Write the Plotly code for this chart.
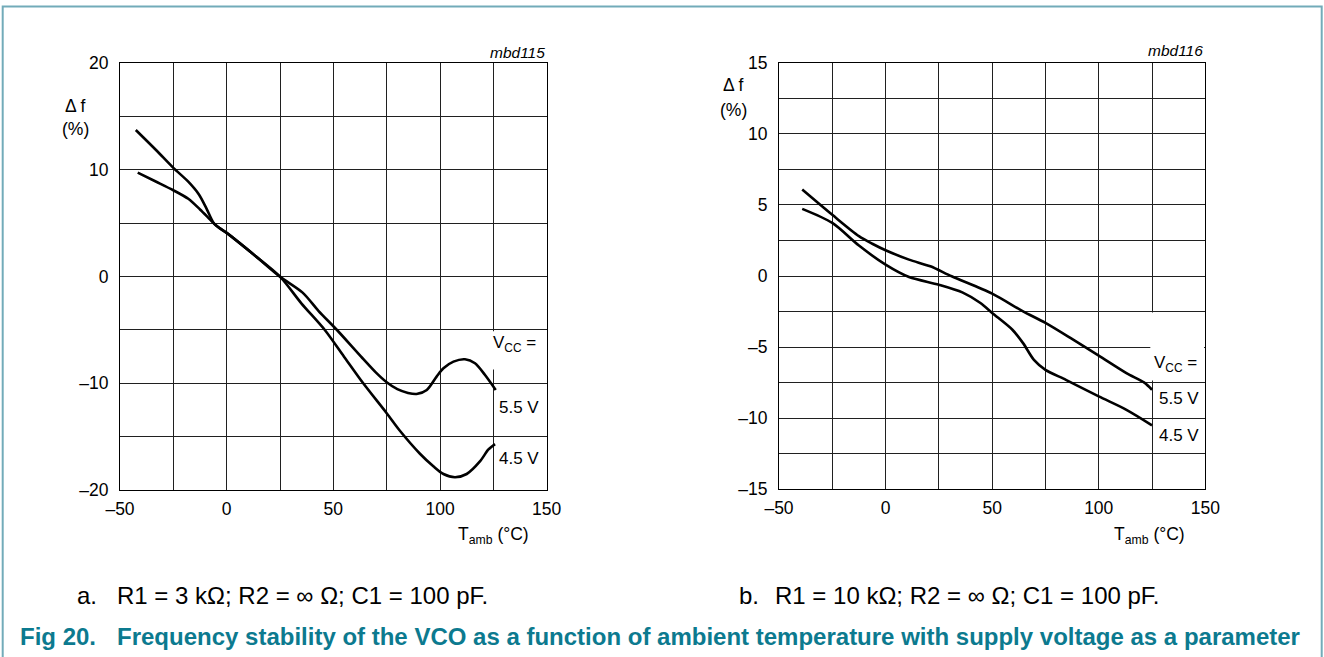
import plotly.graph_objects as go

# ---------------- data ----------------
# Chart a: R1 = 3 kOhm
a_x_55 = [-41.7, -33, -25, -18, -12.5, -8, -5, 0, 12.5, 25, 35.6, 43, 51.7, 63, 70, 75,
          80, 85, 89, 93.8, 98.4, 101.6, 106.3, 111.7, 116.4, 121.1, 126.1]
a_y_55 = [9.75, 8.9, 8.1, 7.3, 6.3, 5.4, 4.8, 4.1, 2.1, 0.0, -1.5, -3.2, -5.0, -7.5, -9.0, -9.9,
          -10.55, -10.9, -11.0, -10.62, -9.37, -8.59, -7.97, -7.75, -8.12, -9.22, -10.62]
a_x_45 = [-42.6, -33, -25, -18, -13, -9.5, -6, -3, 0, 12.5, 25, 35, 46, 55, 64, 75,
          81, 90.6, 97, 101.6, 107, 112.5, 118.8, 122.7, 125.8]
a_y_45 = [13.75, 11.85, 10.2, 8.9, 7.7, 6.4, 5.0, 4.5, 4.1, 2.1, 0.0, -2.5, -5.0, -7.5, -10.0, -12.8,
          -14.4, -16.6, -17.8, -18.5, -18.8, -18.5, -17.3, -16.2, -15.7]

# Chart b: R1 = 10 kOhm
b_x_55 = [-39.1, -25, -12.5, -6, 0, 11, 21, 31, 50, 64.5, 75, 88, 100, 113, 121.4, 125]
b_y_55 = [6.08, 4.3, 2.8, 2.25, 1.81, 1.15, 0.68, -0.02, -1.24, -2.49, -3.3, -4.48, -5.6, -6.83, -7.5, -8.0]
b_x_45 = [-39.1, -25, -12.5, 0, 11, 25, 36, 44.5, 50, 59.5, 64.5, 69.6, 75, 84.6, 100, 113, 125]
b_y_45 = [4.72, 3.73, 2.14, 0.8, -0.07, -0.61, -1.15, -1.9, -2.6, -3.78, -4.72, -5.9, -6.6, -7.3,
          -8.47, -9.41, -10.5]

# axes / ticks
x_range = [-50, 150]
x_tickvals = [-50, 0, 50, 100, 150]
x_ticktext = ["\u201350", "0", "50", "100", "150"]
x_minor = [-25, 25, 75, 125]

a_y_range = [-20, 20]
a_y_tickvals = [-20, -10, 0, 10, 20]
a_y_ticktext = ["\u201320", "\u201310", "0", "10", "20"]
a_y_minor = [-15, -5, 5, 15]

b_y_range = [-15, 15]
b_y_tickvals = [-15, -10, -5, 0, 5, 10, 15]
b_y_ticktext = ["\u201315", "\u201310", "\u20135", "0", "5", "10", "15"]
b_y_minor = [-12.5, -7.5, -2.5, 2.5, 7.5, 12.5]

series_labels = ["5.5 V", "4.5 V"]
chart_codes = ["mbd115", "mbd116"]
captions = ["R1 = 3 k\u03a9; R2 = \u221e \u03a9; C1 = 100 pF.", "R1 = 10 k\u03a9; R2 = \u221e \u03a9; C1 = 100 pF."]
caption_keys = ["a.", "b."]
fig_no = "Fig 20."
fig_title = "Frequency stability of the VCO as a function of ambient temperature with supply voltage as a parameter"

# ---------------- layout helpers ----------------
W, H = 1324, 657
FONT = "Liberation Sans, Arial, Helvetica, sans-serif"
TEAL = "#0c7a8f"
GRID = "#202020"


def px(x):
    return x / W


def py(y):
    return 1 - y / H


fig = go.Figure()
line_style = dict(color="black", width=2.6, shape="spline", smoothing=0.8)
fig.add_trace(go.Scatter(x=a_x_55, y=a_y_55, mode="lines", line=line_style, xaxis="x", yaxis="y",
                         name=series_labels[0], hoverinfo="skip"))
fig.add_trace(go.Scatter(x=a_x_45, y=a_y_45, mode="lines", line=line_style, xaxis="x", yaxis="y",
                         name=series_labels[1], hoverinfo="skip"))
fig.add_trace(go.Scatter(x=b_x_55, y=b_y_55, mode="lines", line=line_style, xaxis="x2", yaxis="y2",
                         name=series_labels[0], hoverinfo="skip"))
fig.add_trace(go.Scatter(x=b_x_45, y=b_y_45, mode="lines", line=line_style, xaxis="x2", yaxis="y2",
                         name=series_labels[1], hoverinfo="skip"))


def axis_common(tickvals, ticktext, minor_vals, rng, standoff):
    return dict(
        range=rng, tickmode="array", tickvals=tickvals, ticktext=ticktext,
        showgrid=True, gridcolor=GRID, gridwidth=1,
        minor=dict(tickmode="array", tickvals=minor_vals, showgrid=True, gridcolor=GRID, gridwidth=1, ticks=""),
        showline=True, mirror=True, linecolor="black", linewidth=1.2,
        zeroline=False, ticks="", ticklabelstandoff=standoff,
        tickfont=dict(family=FONT, size=17.5, color="black"), fixedrange=True,
    )


fig.update_layout(
    autosize=True, margin=dict(l=0, r=0, t=0, b=0, autoexpand=False),
    paper_bgcolor="white", plot_bgcolor="white", showlegend=False,
    xaxis=dict(domain=[px(120), px(546.7)], anchor="y", **axis_common(x_tickvals, x_ticktext, x_minor, x_range, 3)),
    yaxis=dict(domain=[py(490), py(63.3)], anchor="x", **axis_common(a_y_tickvals, a_y_ticktext, a_y_minor, a_y_range, 7)),
    xaxis2=dict(domain=[px(779), px(1205.3)], anchor="y2", **axis_common(x_tickvals, x_ticktext, x_minor, x_range, 3)),
    yaxis2=dict(domain=[py(489.3), py(62.7)], anchor="x2", **axis_common(b_y_tickvals, b_y_ticktext, b_y_minor, b_y_range, 7)),
)

# white boxes behind the "VCC =" labels (cover the grid, stay under the curves)
fig.add_shape(type="rect", xref="x", yref="y", x0=124.2, x1=149.4, y0=-8.7, y1=-5.12,
              fillcolor="white", line=dict(width=0), layer="between")
fig.add_shape(type="rect", xref="x2", yref="y2", x0=124.2, x1=149.4, y0=-7.35, y1=-2.56,
              fillcolor="white", line=dict(width=0), layer="between")

# outer frame
fig.add_shape(type="rect", xref="paper", yref="paper", x0=px(2.7), x1=px(1321.7), y0=-0.05, y1=py(6.5),
              line=dict(color="#72abb9", width=2), fillcolor="rgba(0,0,0,0)", layer="above")

ann = []
txt = dict(family=FONT, size=17.5, color="black")
vtxt = dict(family=FONT, size=17, color="black")
# VCC labels
ann.append(dict(xref="paper", yref="paper", x=px(538), y=py(344), xanchor="right", yanchor="middle",
                text="V<sub>CC</sub> =", showarrow=False, font=vtxt))
ann.append(dict(xref="paper", yref="paper", x=px(497), y=py(407), xanchor="left", yanchor="middle",
                text=series_labels[0], showarrow=False, font=vtxt))
ann.append(dict(xref="paper", yref="paper", x=px(497), y=py(458), xanchor="left", yanchor="middle",
                text=series_labels[1], showarrow=False, font=vtxt))
ann.append(dict(xref="paper", yref="paper", x=px(1199), y=py(364), xanchor="right", yanchor="middle",
                text="V<sub>CC</sub> =", showarrow=False, font=vtxt))
ann.append(dict(xref="paper", yref="paper", x=px(1157), y=py(398), xanchor="left", yanchor="middle",
                text=series_labels[0], showarrow=False, font=vtxt))
ann.append(dict(xref="paper", yref="paper", x=px(1157), y=py(435), xanchor="left", yanchor="middle",
                text=series_labels[1], showarrow=False, font=vtxt))
# axis titles
for xc, y1, y2 in [(75, 106, 129), (733, 85, 110)]:
    ann.append(dict(xref="paper", yref="paper", x=px(xc), y=py(y1), xanchor="center", yanchor="middle",
                    text="\u0394 f", showarrow=False, font=txt))
    ann.append(dict(xref="paper", yref="paper", x=px(xc), y=py(y2), xanchor="center", yanchor="middle",
                    text="(%)", showarrow=False, font=txt))
for xr in [531, 1187]:
    ann.append(dict(xref="paper", yref="paper", x=px(xr), y=py(535), xanchor="right", yanchor="middle",
                    text="T<sub>amb</sub> (\u00b0C)", showarrow=False, font=txt))
# chart codes
for xr, yc, code in [(546.7, 52, chart_codes[0]), (1205.3, 50, chart_codes[1])]:
    ann.append(dict(xref="paper", yref="paper", x=px(xr), y=py(yc), xanchor="right", yanchor="middle",
                    text="<i>" + code + "</i>", showarrow=False, font=dict(family=FONT, size=15.5, color="black")))
# captions
cap_font = dict(family=FONT, size=24, color="black")
for xk, xt, key, cap in [(75, 115, caption_keys[0], captions[0]), (737, 773, caption_keys[1], captions[1])]:
    ann.append(dict(xref="paper", yref="paper", x=px(xk), y=py(595), xanchor="left", yanchor="middle",
                    text=key, showarrow=False, font=cap_font))
    ann.append(dict(xref="paper", yref="paper", x=px(xt), y=py(595), xanchor="left", yanchor="middle",
                    text=cap, showarrow=False, font=cap_font))
# figure title
title_font = dict(family=FONT, size=24, color=TEAL)
ann.append(dict(xref="paper", yref="paper", x=px(18), y=py(636), xanchor="left", yanchor="middle",
                text="<b>" + fig_no + "</b>", showarrow=False, font=title_font))
ann.append(dict(xref="paper", yref="paper", x=px(115), y=py(636), xanchor="left", yanchor="middle",
                text="<b>" + fig_title + "</b>", showarrow=False, font=title_font))

fig.update_layout(annotations=ann)
fig.write_html("out.html", config={"displayModeBar": False, "responsive": True},
               default_width="100vw", default_height="100vh",
               post_script="document.body.style.margin='0';document.body.style.overflow='hidden';")
